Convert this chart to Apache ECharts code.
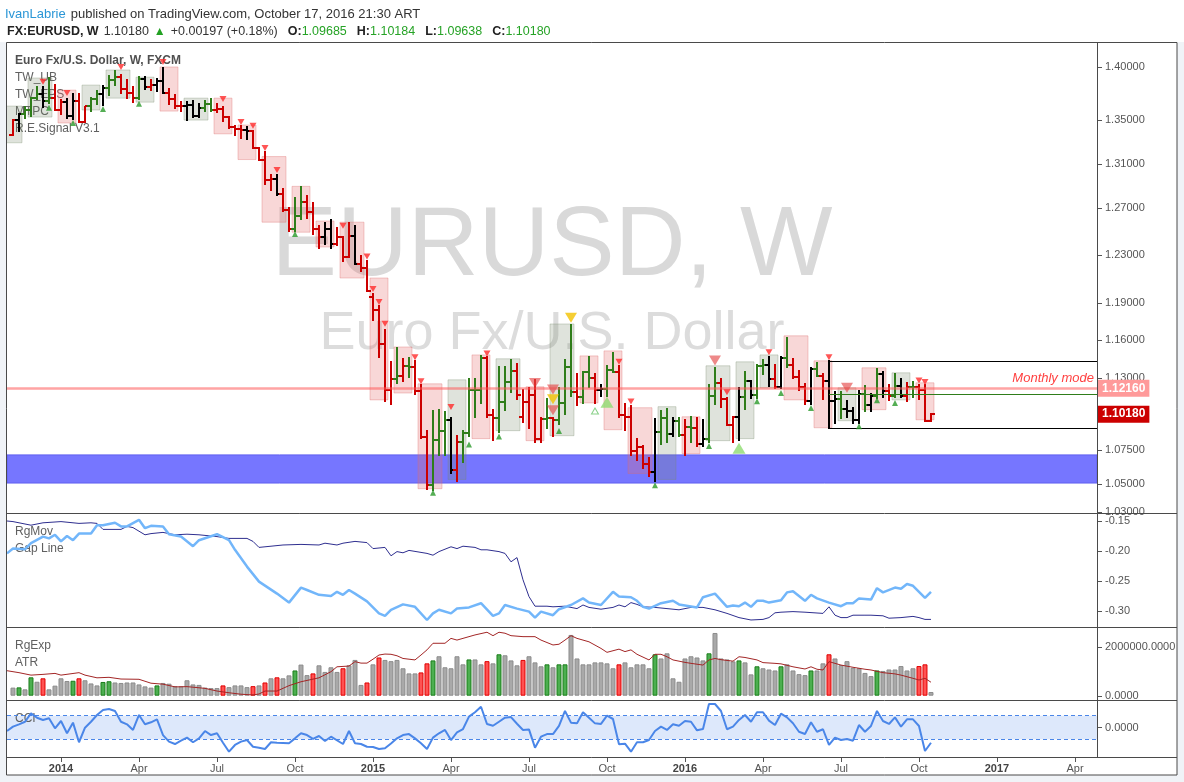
<!DOCTYPE html>
<html>
<head>
<meta charset="utf-8">
<title>FX:EURUSD, W</title>
<script src="https://cdn.jsdelivr.net/npm/echarts@6.0.0/dist/echarts.min.js"></script>
<style>
  html, body { margin: 0; padding: 0; background: #f0f3f7; }
  #chart { width: 1184px; height: 782px; }
</style>
</head>
<body>
<div id="chart"></div>
<script>
// weekly bars: week 1 = week of 10 Nov 2013 ... week 154 = week of 16 Oct 2016
const opens = [
  1.3365,1.3497,1.3555,1.3590,1.3705,1.3740,1.3675,1.3710,1.3590,1.3665,
  1.3540,1.3680,1.3485,1.3635,1.3695,1.3740,1.3805,1.3875,1.3910,1.3790,
  1.3750,1.3705,1.3885,1.3810,1.3830,1.3870,1.3755,1.3695,1.3630,1.3635,
  1.3640,1.3540,1.3610,1.3645,1.3595,1.3605,1.3525,1.3430,1.3415,1.3410,
  1.3400,1.3240,1.3132,1.2950,1.2965,1.2830,1.2685,1.2520,1.2630,1.2760,
  1.2670,1.2525,1.2455,1.2525,1.2390,1.2450,1.2285,1.2460,1.2225,1.2190,
  1.1950,1.1840,1.1565,1.1205,1.1290,1.1315,1.1390,1.1380,1.1195,1.0845,
  1.0495,1.0820,1.0890,1.0970,1.0600,1.0805,1.0875,1.1200,1.1200,1.1450,
  1.1015,1.0985,1.1110,1.1265,1.1350,1.1000,1.1110,1.1165,1.0830,1.0980,
  1.0985,1.0970,1.1105,1.1385,1.1185,1.1150,1.1340,1.1295,1.1200,1.1210,
  1.1360,1.1345,1.1015,1.1000,1.0740,1.0770,1.0645,1.0590,1.0880,1.0990,
  1.0870,1.0965,1.0860,1.0920,1.0915,1.0795,1.0830,1.1155,1.1255,1.1130,
  1.0935,1.0995,1.1150,1.1270,1.1165,1.1390,1.1395,1.1285,1.1225,1.1455,
  1.1400,1.1305,1.1225,1.1115,1.1365,1.1315,1.1275,1.1115,1.1135,1.1055,
  1.1040,1.0975,1.1175,1.1085,1.1160,1.1325,1.1195,1.1155,1.1235,1.1155,
  1.1225,1.1225,1.1200,1.09685
];
const highs = [
  1.3500,1.3560,1.3620,1.3710,1.3810,1.3811,1.3893,1.3830,1.3687,1.3700,
  1.3740,1.3740,1.3620,1.3705,1.3773,1.3825,1.3915,1.3967,1.3930,1.3875,
  1.3810,1.3905,1.3905,1.3875,1.3890,1.3993,1.3790,1.3735,1.3670,1.3670,
  1.3675,1.3645,1.3675,1.3700,1.3650,1.3620,1.3530,1.3445,1.3445,1.3435,
  1.3400,1.3245,1.3200,1.2995,1.3000,1.2870,1.2705,1.2790,1.2885,1.2810,
  1.2750,1.2550,1.2577,1.2600,1.2530,1.2455,1.2570,1.2550,1.2290,1.2250,
  1.1970,1.1870,1.1680,1.1425,1.1535,1.1445,1.1450,1.1430,1.1245,1.0890,
  1.1045,1.1050,1.1035,1.0985,1.0850,1.0890,1.1290,1.1290,1.1467,1.1460,
  1.1050,1.1380,1.1385,1.1435,1.1410,1.1205,1.1215,1.1280,1.0985,1.1130,
  1.0990,1.1215,1.1440,1.1715,1.1330,1.1345,1.1460,1.1330,1.1245,1.1390,
  1.1495,1.1390,1.1095,1.1080,1.0830,1.0780,1.0690,1.0980,1.1045,1.1060,
  1.0990,1.0990,1.0970,1.0995,1.0990,1.0975,1.1245,1.1375,1.1290,1.1145,
  1.1000,1.1218,1.1340,1.1275,1.1400,1.1440,1.1465,1.1400,1.1460,1.1615,
  1.1445,1.1348,1.1250,1.1375,1.1415,1.1325,1.1428,1.1185,1.1185,1.1120,
  1.1065,1.1195,1.1235,1.1175,1.1365,1.1340,1.1240,1.1330,1.1285,1.1255,
  1.1265,1.1240,1.1240,1.10184
];
const lows = [
  1.3360,1.3400,1.3520,1.3540,1.3700,1.3625,1.3655,1.3590,1.3560,1.3520,
  1.3510,1.3480,1.3477,1.3585,1.3645,1.3640,1.3730,1.3830,1.3750,1.3705,
  1.3672,1.3700,1.3790,1.3780,1.3775,1.3755,1.3650,1.3615,1.3585,1.3503,
  1.3525,1.3525,1.3580,1.3580,1.3570,1.3490,1.3425,1.3365,1.3333,1.3325,
  1.3240,1.3130,1.2920,1.2860,1.2815,1.2680,1.2500,1.2500,1.2610,1.2615,
  1.2480,1.2357,1.2395,1.2360,1.2380,1.2245,1.2280,1.2225,1.2160,1.2000,
  1.1755,1.1460,1.1115,1.1095,1.1260,1.1270,1.1305,1.1175,1.0840,1.0462,
  1.0455,1.0710,1.0710,1.0580,1.0520,1.0660,1.0850,1.1000,1.1100,1.1000,
  1.0820,1.0885,1.1050,1.1190,1.1135,1.0955,1.0915,1.0810,1.0810,1.0915,
  1.0850,1.0940,1.1020,1.1160,1.1085,1.1100,1.1230,1.1105,1.1155,1.1160,
  1.1340,1.0995,1.0895,1.0710,1.0675,1.0615,1.0560,1.0524,1.0795,1.0805,
  1.0850,1.0850,1.0710,1.0805,1.0780,1.0780,1.0810,1.1095,1.1070,1.0935,
  1.0810,1.0820,1.1055,1.1145,1.1145,1.1325,1.1235,1.1215,1.1215,1.1385,
  1.1300,1.1200,1.1095,1.1098,1.1315,1.1130,1.0912,1.0950,1.0990,1.1000,
  1.0950,1.0950,1.1045,1.1045,1.1145,1.1150,1.1125,1.1150,1.1150,1.1120,
  1.1150,1.1130,1.0965,1.09638
];
const closes = [
  1.3497,1.3555,1.3590,1.3705,1.3740,1.3675,1.3710,1.3590,1.3665,1.3540,
  1.3680,1.3485,1.3635,1.3695,1.3740,1.3805,1.3875,1.3910,1.3790,1.3750,
  1.3705,1.3885,1.3810,1.3830,1.3870,1.3755,1.3695,1.3630,1.3635,1.3640,
  1.3540,1.3610,1.3645,1.3595,1.3605,1.3525,1.3430,1.3415,1.3410,1.3400,
  1.3240,1.3132,1.2950,1.2965,1.2830,1.2685,1.2520,1.2630,1.2760,1.2670,
  1.2525,1.2455,1.2525,1.2390,1.2450,1.2285,1.2460,1.2225,1.2190,1.2000,
  1.1840,1.1565,1.1205,1.1290,1.1315,1.1390,1.1380,1.1195,1.0845,1.0495,
  1.0820,1.0890,1.0970,1.0600,1.0805,1.0875,1.1200,1.1200,1.1450,1.1015,
  1.0985,1.1110,1.1265,1.1350,1.1165,1.1110,1.1165,1.0830,1.0980,1.0985,
  1.0970,1.1105,1.1385,1.1185,1.1150,1.1340,1.1295,1.1200,1.1210,1.1360,
  1.1345,1.1015,1.1000,1.0740,1.0770,1.0645,1.0590,1.0880,1.0990,1.0870,
  1.0965,1.0860,1.0920,1.0915,1.0795,1.0830,1.1155,1.1255,1.1130,1.0935,
  1.0995,1.1150,1.1270,1.1165,1.1390,1.1395,1.1285,1.1225,1.1455,1.1400,
  1.1305,1.1225,1.1115,1.1365,1.1315,1.1275,1.1115,1.1135,1.1055,1.1040,
  1.0975,1.1175,1.1085,1.1160,1.1325,1.1195,1.1155,1.1235,1.1155,1.1225,
  1.1225,1.1200,1.0969,1.10180
];
// bar colour from the signal: r = red, g = green, k = black
const barColors = ('rkgggkgrrk' + 'krrggkggrr' + 'rgkrkkrrrk' + 'kkggrrrrrk' + 'rrrrkrrggr' +
  'rrkkrrrkrr' + 'rrrrgrgrrr' + 'gggkrggggr' + 'rgggrrrrrg' + 'rgggrggrkg' +
  'grrrrrrkgg' + 'kgrgrkggrr' + 'rkgkggkrkg' + 'rrrkgrkkgk' + 'kkgkgkrgkr' + 'grrr').split('');

// shaded boxes: [first week, last week, low, high, kind]
const boxes = [
  [0, 2, 1.3289, 1.3630, 'g'], [4, 7, 1.3527, 1.3897, 'g'], [9, 11, 1.3472, 1.3781, 'r'],
  [13, 15, 1.3593, 1.3829, 'g'], [17, 20, 1.3705, 1.3974, 'g'], [22, 24, 1.3667, 1.3905, 'g'],
  [26, 28, 1.3583, 1.4003, 'r'], [30, 33, 1.3499, 1.3705, 'g'], [35, 37, 1.3371, 1.3705, 'r'],
  [39, 41, 1.3136, 1.3453, 'r'], [43, 46, 1.2580, 1.3163, 'r'], [48, 50, 1.2493, 1.2895, 'r'],
  [52, 54, 1.2366, 1.2590, 'r'], [56, 59, 1.2104, 1.2580, 'r'], [61, 63, 1.1127, 1.2104, 'r'],
  [65, 67, 1.1180, 1.1541, 'r'], [69, 72, 1.0465, 1.1251, 'r'], [74, 76, 1.0532, 1.1282, 'g'],
  [78, 80, 1.0833, 1.1478, 'r'], [82, 85, 1.0893, 1.1447, 'g'], [87, 89, 1.0818, 1.1228, 'r'],
  [91, 94, 1.0855, 1.1726, 'g'], [96, 98, 1.1104, 1.1470, 'r'], [100, 102, 1.0900, 1.1510, 'r'],
  [104, 107, 1.0576, 1.1067, 'r'], [109, 111, 1.0532, 1.1075, 'g'], [113, 115, 1.0722, 1.0998, 'r'],
  [117, 120, 1.0818, 1.1392, 'g'], [122, 124, 1.0833, 1.1423, 'g'], [126, 128, 1.1220, 1.1478, 'g'],
  [130, 133, 1.1127, 1.1630, 'r'], [135, 137, 1.0915, 1.1431, 'r'], [139, 141, 1.0968, 1.1220, 'g'],
  [143, 146, 1.1052, 1.1376, 'r'], [148, 150, 1.1127, 1.1337, 'g'], [152, 154, 1.0975, 1.1259, 'r']
];

// signal triangles: [week, price]
const sellSmall = [[6,1.3861],[10,1.3754],[19,1.4003],[26,1.4051],[36,1.3697],[39,1.3481],[41,1.3446],
  [43,1.3240],[45,1.3042],[56,1.2549],[60,1.2285],[61,1.2012],[62,1.1906],[63,1.1727],[68,1.1460],
  [69,1.1272],[74,1.1072],[80,1.1490],[102,1.1423],[104,1.1115],[120,1.1185],[127,1.1500],
  [137,1.1460],[152,1.1277],[153,1.1265]];
const buySmall = [[7,1.3615],[11,1.3472],[16,1.3603],[22,1.3652],[48,1.2477],[71,1.0436],[77,1.0789],
  [82,1.0850],[92,1.0890],[108,1.0490],[117,1.0778],[125,1.1116],[129,1.1180],[134,1.1065],
  [142,1.0926],[145,1.1124],[148,1.1103]];
const sellBig = [[88,1.1257],[91,1.1208],[91,1.1048],[118,1.1434],[140,1.1221]];
const warnBig = [[91,1.1132],[94,1.1776]];
const buyBig = [[100,1.1108],[122,1.0761]];
const buyHollow = [[98,1.1042]];

const supportZone = [1.0506, 1.0712];
const monthlyMode = 1.1216;
const lastPrice = 1.1018;
const brexitWeek = 137;
const brexitHigh = 1.1428, brexitLow = 1.0912, brexitMid = 1.1172;

// RgMov panel: [week, value]
const gapLine = [[0,-0.204],[1,-0.196],[3,-0.197],[4,-0.187],[6,-0.176],[7,-0.179],[8,-0.173],[9,-0.184],
  [10,-0.175],[11,-0.182],[12,-0.171],[14,-0.171],[15,-0.157],[16,-0.157],[18,-0.153],[19,-0.159],
  [20,-0.159],[22,-0.148],[23,-0.162],[24,-0.158],[26,-0.159],[27,-0.172],[29,-0.176],[31,-0.192],
  [32,-0.182],[35,-0.172],[37,-0.182],[38,-0.198],[40,-0.226],[42,-0.251],[45,-0.271],[47,-0.286],
  [49,-0.261],[50,-0.265],[52,-0.273],[54,-0.275],[55,-0.268],[56,-0.273],[57,-0.265],[58,-0.271],
  [60,-0.284],[62,-0.304],[63,-0.308],[64,-0.298],[66,-0.289],[68,-0.293],[70,-0.315],[71,-0.304],
  [72,-0.298],[74,-0.304],[75,-0.296],[77,-0.294],[79,-0.287],[81,-0.308],[82,-0.304],[83,-0.290],
  [85,-0.296],[87,-0.301],[88,-0.311],[89,-0.301],[91,-0.307],[92,-0.297],[94,-0.290],[96,-0.279],
  [97,-0.286],[99,-0.290],[101,-0.268],[102,-0.276],[104,-0.277],[105,-0.283],[106,-0.293],[107,-0.296],
  [109,-0.287],[111,-0.283],[112,-0.289],[115,-0.294],[116,-0.277],[118,-0.271],[120,-0.293],[121,-0.291],
  [122,-0.292],[123,-0.286],[124,-0.293],[125,-0.283],[126,-0.283],[127,-0.286],[129,-0.282],[130,-0.269],
  [131,-0.267],[133,-0.283],[134,-0.273],[135,-0.279],[137,-0.286],[139,-0.292],[140,-0.287],[141,-0.287],
  [142,-0.279],[144,-0.281],[145,-0.262],[146,-0.269],[148,-0.261],[149,-0.263],[150,-0.255],[151,-0.258],
  [153,-0.278],[154,-0.268]];
const rgMov = [[0,-0.150],[1,-0.151],[4,-0.157],[6,-0.153],[9,-0.151],[12,-0.154],[14,-0.153],[15,-0.154],
  [16,-0.164],[19,-0.164],[20,-0.159],[21,-0.161],[23,-0.173],[24,-0.171],[26,-0.169],[28,-0.173],
  [30,-0.172],[32,-0.173],[35,-0.176],[37,-0.179],[40,-0.179],[41,-0.184],[42,-0.194],[43,-0.193],
  [46,-0.190],[49,-0.189],[52,-0.190],[53,-0.187],[55,-0.190],[56,-0.187],[58,-0.184],[60,-0.186],
  [61,-0.196],[63,-0.194],[64,-0.208],[65,-0.201],[66,-0.203],[67,-0.199],[70,-0.204],[71,-0.207],
  [72,-0.201],[74,-0.193],[75,-0.196],[76,-0.192],[78,-0.194],[79,-0.198],[80,-0.198],[82,-0.201],
  [83,-0.204],[84,-0.218],[85,-0.211],[86,-0.248],[87,-0.276],[88,-0.292],[90,-0.292],[91,-0.293],
  [93,-0.292],[94,-0.294],[95,-0.296],[96,-0.290],[97,-0.294],[99,-0.297],[101,-0.294],[102,-0.290],
  [103,-0.293],[104,-0.286],[105,-0.289],[106,-0.293],[108,-0.294],[110,-0.296],[112,-0.298],[114,-0.294],
  [116,-0.294],[118,-0.298],[120,-0.304],[122,-0.311],[124,-0.315],[126,-0.314],[127,-0.311],[128,-0.303],
  [129,-0.302],[131,-0.301],[133,-0.302],[136,-0.304],[137,-0.293],[138,-0.307],[139,-0.311],[140,-0.311],
  [141,-0.307],[143,-0.307],[144,-0.307],[146,-0.308],[147,-0.312],[149,-0.311],[151,-0.309],[152,-0.311],
  [153,-0.314],[154,-0.314]];

// RgExp panel, in millions
const atrBars = [
  0.33,0.34,0.26,0.75,0.57,0.71,0.26,0.41,0.71,0.60, 0.61,0.71,0.63,0.50,0.42,0.56,0.59,0.54,0.52,0.54,
  0.54,0.46,0.38,0.33,0.42,0.52,0.49,0.39,0.38,0.63, 0.46,0.44,0.33,0.31,0.31,0.42,0.35,0.42,0.42,0.35,
  0.39,0.42,0.54,0.71,0.75,0.71,0.83,1.03,1.27,0.84, 0.91,1.24,0.97,1.16,0.97,1.12,1.24,1.46,0.44,0.54,
  1.28,1.56,1.46,1.41,1.46,1.12,0.91,0.91,0.95,1.32, 1.44,1.61,1.16,1.12,1.61,1.28,1.48,1.48,1.28,1.41,
  1.32,1.69,1.65,1.44,1.24,1.46,1.61,1.36,1.20,1.28, 1.16,1.28,1.28,2.48,1.52,1.28,1.28,1.36,1.36,1.32,
  1.12,1.28,1.36,1.16,1.28,1.28,1.12,1.69,1.52,1.73, 0.71,0.57,1.52,1.61,1.56,1.44,1.73,2.56,1.52,1.48,
  1.40,1.44,1.36,0.87,1.20,1.12,1.07,1.03,1.20,1.28, 1.03,0.88,0.84,1.03,1.03,1.32,1.69,1.52,1.25,1.41,
  1.14,1.12,0.93,0.80,1.03,1.01,1.07,1.07,1.21,1.03, 1.12,1.21,1.28,0.15
];
const atrColors = ('xgxgxrxxxx' + 'grxxxggxxx' + 'xxxxgxxxxx' + 'xxxxxrxxxx' + 'rxrxrxxgxx' +
  'rxxxxrxxxr' + 'xrxxxxxxrr' + 'gxxxxxgxxr' + 'xgxxxrxxxg' + 'xggxxxxxxx' +
  'xrxxxxxgxx' + 'xxxxxxgxxx' + 'xgxxgxxxgx' + 'xxxgxxrxxx' + 'xxxxgxxxxx' + 'xrrx').split('');
const atrLine = [[0,1.02],[2,0.94],[4,0.84],[6,0.87],[8,0.91],[9,0.84],[12,0.94],[13,0.84],[15,0.73],
  [17,0.75],[19,0.68],[22,0.67],[24,0.51],[26,0.47],[28,0.36],[30,0.37],[33,0.30],[35,0.19],[37,0.12],
  [39,0.06],[41,0.03],[42,0.07],[43,0.19],[45,0.19],[47,0.41],[49,0.57],[52,0.73],[54,0.98],[55,1.18],
  [57,1.21],[58,1.39],[59,1.33],[60,1.33],[61,1.49],[62,1.66],[63,1.70],[64,1.69],[65,1.63],[66,1.52],
  [68,1.46],[69,1.66],[70,1.87],[71,2.14],[73,2.14],[74,2.34],[75,2.27],[77,2.41],[78,2.48],[80,2.59],
  [81,2.45],[82,2.59],[83,2.55],[84,2.45],[86,2.41],[88,2.41],[89,2.27],[91,2.07],[92,2.10],[93,2.27],
  [94,2.45],[95,2.34],[97,2.20],[99,1.93],[100,1.77],[102,1.90],[103,1.80],[104,1.87],[105,1.69],
  [107,1.46],[108,1.69],[109,1.69],[110,1.59],[111,1.46],[113,1.36],[114,1.32],[116,1.25],[117,1.46],
  [118,1.52],[119,1.47],[121,1.41],[122,1.59],[123,1.56],[125,1.46],[126,1.35],[128,1.32],[129,1.30],
  [131,1.18],[133,1.09],[134,1.18],[135,1.08],[136,1.05],[137,1.39],[138,1.32],[139,1.25],[141,1.16],
  [143,1.08],[144,1.05],[146,0.94],[148,0.89],[149,0.84],[151,0.71],[152,0.64],[153,0.71],[154,0.55]];

// CCI panel
const cci = [[0,-30],[1,7],[2,27],[3,49],[4,120],[5,83],[6,64],[7,78],[8,-7],[9,55],[10,-49],[11,41],
  [12,-125],[13,-2],[14,49],[15,106],[16,148],[17,157],[18,140],[19,49],[20,27],[21,-21],[22,106],
  [23,27],[24,44],[25,69],[26,-64],[27,-120],[28,-140],[29,-112],[30,-86],[31,-125],[32,-92],[33,-30],
  [34,-64],[35,-49],[36,-129],[37,-205],[38,-148],[39,-120],[40,-106],[41,-163],[42,-171],[43,-182],
  [44,-125],[45,-129],[47,-134],[48,-92],[49,-49],[50,-64],[51,-97],[52,-72],[53,-114],[54,-78],
  [56,-140],[57,-30],[58,-134],[59,-140],[60,-163],[61,-165],[62,-182],[63,-176],[64,-135],[65,-92],
  [66,-64],[67,-56],[68,-92],[69,-134],[70,-182],[71,-86],[72,-49],[73,-21],[74,-106],[75,-42],[76,-13],
  [77,92],[78,129],[79,176],[80,30],[81,15],[82,49],[83,83],[84,88],[85,32],[86,-21],[87,-16],[88,-171],
  [89,-78],[90,-56],[91,-56],[92,13],[93,140],[94,41],[95,35],[96,129],[97,83],[98,35],[99,30],[100,100],
  [101,72],[102,-142],[103,-137],[104,-205],[105,-125],[106,-125],[107,-106],[108,-30],[109,7],[110,-21],
  [111,27],[112,15],[113,55],[114,49],[115,-24],[116,-13],[117,199],[118,199],[119,140],[120,-15],[121,7],
  [122,64],[123,106],[124,49],[125,129],[126,129],[127,58],[128,21],[129,117],[130,86],[131,36],[132,-36],
  [133,-55],[134,44],[135,-36],[136,-15],[137,-148],[138,-86],[139,-106],[140,-98],[141,-112],[142,21],
  [143,-36],[144,13],[145,140],[146,55],[147,30],[148,86],[149,7],[150,69],[151,69],[152,13],[153,-199],
  [154,-129]];

const priceTicks = [1.40, 1.35, 1.31, 1.27, 1.23, 1.19, 1.16, 1.13, 1.075, 1.05, 1.03];
const rgMovTicks = [-0.15, -0.20, -0.25, -0.30];
const atrTicks = [0, 2];
const cciTicks = [0];
const timeTicks = [9, 22, 35, 48, 61, 74, 87, 100, 113, 126, 139, 152, 165, 178];
const timeLabels = ['2014', 'Apr', 'Jul', 'Oct', '2015', 'Apr', 'Jul', 'Oct', '2016', 'Apr', 'Jul', 'Oct', '2017', 'Apr'];

const L = Math.log;
const xMax = 181.67;
const FONT = '"Liberation Sans", Arial, sans-serif';
const colorMap = { r: '#cc0000', g: '#2f7d1a', k: '#000000' };
const atrStyle = {
  x: { color: '#a9a9a9', borderColor: '#8c8c8c', borderWidth: 1 },
  g: { color: '#4caf50', borderColor: '#1b7d1b', borderWidth: 1 },
  r: { color: '#ff5252', borderColor: '#e00000', borderWidth: 1 }
};

const ohlc = opens.map((o, i) => [i + 1, L(o), L(highs[i]), L(lows[i]), L(closes[i])]);
const boxData = boxes.map(b => [b[0], b[1], L(b[2]), L(b[3])]);
const toLog = arr => arr.map(p => [p[0], L(p[1])]);

function renderBar(params, api) {
  const n = api.value(0);
  const op = api.coord([n, api.value(1)]);
  const hi = api.coord([n, api.value(2)]);
  const lo = api.coord([n, api.value(3)]);
  const cl = api.coord([n, api.value(4)]);
  const x = Math.round(hi[0]);
  const st = { stroke: colorMap[barColors[params.dataIndex]], lineWidth: 2 };
  const yo = Math.round(op[1]), yc = Math.round(cl[1]);
  return {
    type: 'group',
    children: [
      { type: 'line', shape: { x1: x, y1: Math.round(hi[1]) - 1, x2: x, y2: Math.round(lo[1]) + 1 }, style: st },
      { type: 'line', shape: { x1: x - 4, y1: yo, x2: x, y2: yo }, style: st },
      { type: 'line', shape: { x1: x, y1: yc, x2: x + 4, y2: yc }, style: st }
    ]
  };
}

function renderBox(params, api) {
  const a = api.coord([api.value(0) - 0.5, api.value(3)]);
  const b = api.coord([api.value(1) + 0.5, api.value(2)]);
  const pink = boxes[params.dataIndex][4] === 'r';
  return {
    type: 'rect',
    shape: { x: a[0], y: a[1], width: b[0] - a[0], height: b[1] - a[1] },
    style: pink
      ? { fill: 'rgba(230,110,110,0.28)', stroke: 'rgba(220,110,110,0.35)', lineWidth: 1 }
      : { fill: 'rgba(120,140,110,0.24)', stroke: 'rgba(120,140,110,0.32)', lineWidth: 1 }
  };
}

// small tick marks right of the price axis line and under the time axis
function yTicks(axisIndex, values) {
  return {
    type: 'custom', xAxisIndex: axisIndex, yAxisIndex: axisIndex, silent: true, clip: false, z: 20,
    data: values.map(v => [xMax, v]),
    renderItem: (params, api) => {
      const c = api.coord([api.value(0), api.value(1)]);
      const y = Math.round(c[1]) + 0.5;
      return { type: 'line', shape: { x1: c[0] + 1, y1: y, x2: c[0] + 5, y2: y }, style: { stroke: '#555', lineWidth: 1 } };
    }
  };
}
function xTicks(values) {
  return {
    type: 'custom', xAxisIndex: 3, yAxisIndex: 3, silent: true, clip: false, z: 20,
    data: values.map(v => [v, -250]),
    renderItem: (params, api) => {
      const c = api.coord([api.value(0), api.value(1)]);
      const x = Math.round(c[0]) + 0.5;
      return { type: 'line', shape: { x1: x, y1: c[1] + 1, x2: x, y2: c[1] + 5 }, style: { stroke: '#555', lineWidth: 1 } };
    }
  };
}

const grids = [
  { left: 7, right: 87, top: 42, height: 471 },
  { left: 7, right: 87, top: 513, height: 114 },
  { left: 7, right: 87, top: 627, height: 73 },
  { left: 7, right: 87, top: 700, height: 57 }
];

const axisLabelBase = { color: '#555', fontSize: 11, fontFamily: FONT, margin: 8 };

function yAxisFor(gridIndex, min, max, ticks, fmt) {
  return {
    type: 'value', gridIndex, position: 'right', min, max,
    axisLine: { show: false }, splitLine: { show: false }, axisTick: { show: false },
    axisLabel: Object.assign({ customValues: ticks, formatter: fmt }, axisLabelBase)
  };
}

const xAxes = grids.map((g, i) => ({
  type: 'value', gridIndex: i, min: 0, max: xMax, show: i === 3,
  axisLine: { show: false }, splitLine: { show: false }, axisTick: { show: false },
  axisLabel: {
    customValues: timeTicks, margin: 6, fontFamily: FONT, fontSize: 11,
    formatter: v => {
      const t = timeLabels[timeTicks.indexOf(Math.round(v))] || '';
      return /^\d{4}$/.test(t) ? '{yr|' + t + '}' : '{mo|' + t + '}';
    },
    rich: {
      yr: { color: '#444', fontWeight: 'bold', fontSize: 11, fontFamily: FONT },
      mo: { color: '#555', fontSize: 11, fontFamily: FONT }
    }
  }
}));

const yAxes = [
  yAxisFor(0, 0.02867, 0.35394, priceTicks.map(p => L(p)), v => Math.exp(v).toFixed(5)),
  yAxisFor(1, -0.32667, -0.13667, rgMovTicks, v => v.toFixed(2)),
  yAxisFor(2, -0.1755, 2.804, atrTicks, v => (v * 1e6).toFixed(4)),
  yAxisFor(3, -250, 233, cciTicks, v => v.toFixed(4))
];

function tri(data, rotate, size, color, z) {
  return {
    type: 'scatter', xAxisIndex: 0, yAxisIndex: 0, data: toLog(data), silent: true,
    symbol: 'triangle', symbolRotate: rotate, symbolSize: size, itemStyle: color, z
  };
}

function legendText(x, y, text, bold) {
  return {
    type: 'text', x, y, z: 1.5,
    style: {
      text, fill: bold ? '#505050' : '#606060',
      font: (bold ? 'bold ' : '') + '12px ' + FONT,
      textVerticalAlign: 'middle', verticalAlign: 'middle'
    }
  };
}

function priceTag(value, bg) {
  return {
    yAxis: L(value), lineStyle: { color: 'rgba(0,0,0,0)', width: 0 },
    label: { show: true, position: 'end', formatter: value.toFixed(5), distance: 0,
      backgroundColor: bg, color: '#fff', fontWeight: 'bold', fontSize: 12,
      fontFamily: FONT, padding: [3, 4, 2, 5] }
  };
}

const option = {
  backgroundColor: '#f0f3f7',
  animation: false,
  textStyle: { fontFamily: FONT },
  title: [
    {
      left: 5, top: 5, padding: 0,
      text: '{u|IvanLabrie} {p|published on TradingView.com, October 17, 2016 21:30 ART}',
      textStyle: { fontWeight: 'normal', rich: {
        u: { color: '#2a96d6', fontSize: 13, fontWeight: 'normal', fontFamily: FONT },
        p: { color: '#333', fontSize: 13, fontWeight: 'normal', fontFamily: FONT }
      } }
    },
    {
      left: 7, top: 23, padding: 0,
      text: '{b|FX:EURUSD, W} {n|1.10180} {up|▲} {n|+0.00197 (+0.18%)}  {b|O:}{v|1.09685}  {b|H:}{v|1.10184}  {b|L:}{v|1.09638}  {b|C:}{v|1.10180}',
      textStyle: { fontWeight: 'normal', rich: {
        b: { color: '#222', fontWeight: 'bold', fontSize: 12.5, fontFamily: FONT },
        n: { color: '#333', fontWeight: 'normal', fontSize: 12.5, fontFamily: FONT },
        up: { color: '#23a123', fontWeight: 'normal', fontSize: 12, fontFamily: FONT },
        v: { color: '#26a326', fontWeight: 'normal', fontSize: 12.5, fontFamily: FONT }
      } }
    }
  ],
  grid: grids,
  xAxis: xAxes,
  yAxis: yAxes,
  graphic: [
    { type: 'rect', z: -30, shape: { x: 0, y: 0, width: 1184, height: 42 }, style: { fill: '#ffffff' } },
    { type: 'rect', z: -30, shape: { x: 6.5, y: 42.5, width: 1170.5, height: 732.5 }, style: { fill: '#ffffff' } },
    {
      type: 'text', x: 552, y: 248, z: -5,
      style: { text: 'EURUSD, W', fill: '#d9d9d9', font: '98px ' + FONT,
        textAlign: 'center', align: 'center', textVerticalAlign: 'middle', verticalAlign: 'middle' }
    },
    {
      type: 'text', x: 552, y: 334, z: -5,
      style: { text: 'Euro Fx/U.S. Dollar', fill: '#dcdcdc', font: '54px ' + FONT,
        textAlign: 'center', align: 'center', textVerticalAlign: 'middle', verticalAlign: 'middle' }
    },
    legendText(15, 61, 'Euro Fx/U.S. Dollar, W, FXCM', true),
    legendText(15, 78, 'TW_UB'),
    legendText(15, 95, 'TW_EPS'),
    legendText(15, 112, 'MTPC'),
    legendText(15, 129, 'R.E.Signal V3.1'),
    legendText(15, 532, 'RgMov'),
    legendText(15, 549, 'Gap Line'),
    legendText(15, 646, 'RgExp'),
    legendText(15, 663, 'ATR'),
    legendText(15, 719, 'CCI'),
    { type: 'rect', z: 50, shape: { x: 6.5, y: 42.5, width: 1170.5, height: 732.5 },
      style: { fill: 'none', stroke: '#4a4a4a', lineWidth: 1 } },
    { type: 'line', z: 50, shape: { x1: 6.5, y1: 513.5, x2: 1177, y2: 513.5 }, style: { stroke: '#4a4a4a', lineWidth: 1 } },
    { type: 'line', z: 50, shape: { x1: 6.5, y1: 627.5, x2: 1177, y2: 627.5 }, style: { stroke: '#4a4a4a', lineWidth: 1 } },
    { type: 'line', z: 50, shape: { x1: 6.5, y1: 700.5, x2: 1177, y2: 700.5 }, style: { stroke: '#4a4a4a', lineWidth: 1 } },
    { type: 'line', z: 50, shape: { x1: 6.5, y1: 757.5, x2: 1177, y2: 757.5 }, style: { stroke: '#4a4a4a', lineWidth: 1 } },
    { type: 'line', z: 50, shape: { x1: 1097.5, y1: 42.5, x2: 1097.5, y2: 757.5 }, style: { stroke: '#4a4a4a', lineWidth: 1 } }
  ],
  series: [
    // support zone
    {
      type: 'line', xAxisIndex: 0, yAxisIndex: 0, data: [], z: 1, silent: true,
      markArea: {
        silent: true,
        itemStyle: { color: '#7676ff', borderColor: '#5e5ef0', borderWidth: 1 },
        data: [[{ coord: [0, L(supportZone[1])] }, { coord: [xMax, L(supportZone[0])] }]]
      }
    },
    {
      type: 'custom', xAxisIndex: 0, yAxisIndex: 0, data: boxData, renderItem: renderBox,
      clip: true, silent: true, z: 2, encode: { x: [0, 1], y: [2, 3] }
    },
    // reference lines
    {
      type: 'line', xAxisIndex: 0, yAxisIndex: 0, data: [], z: 3, silent: true,
      markLine: {
        silent: true, symbol: ['none', 'none'], animation: false, precision: 10,
        data: [
          { yAxis: L(monthlyMode), lineStyle: { color: 'rgba(255,90,90,0.55)', width: 2.5, type: 'solid' },
            label: { show: true, position: 'insideEndTop', formatter: 'Monthly mode', color: '#ff4040',
              fontStyle: 'italic', fontSize: 13, fontFamily: FONT, distance: 3 } },
          [{ coord: [brexitWeek, L(brexitHigh)], lineStyle: { color: '#000', width: 1, type: 'solid' }, label: { show: false } },
           { coord: [xMax, L(brexitHigh)] }],
          [{ coord: [brexitWeek, L(brexitLow)], lineStyle: { color: '#000', width: 1, type: 'solid' }, label: { show: false } },
           { coord: [xMax, L(brexitLow)] }],
          [{ coord: [brexitWeek, L(brexitMid)], lineStyle: { color: '#2f7d1a', width: 1, type: 'solid' }, label: { show: false } },
           { coord: [xMax, L(brexitMid)] }]
        ]
      }
    },
    // price tags on the axis
    {
      type: 'line', xAxisIndex: 0, yAxisIndex: 0, data: [], z: 30, silent: true,
      markLine: {
        silent: true, symbol: ['none', 'none'], animation: false, precision: 10,
        data: [priceTag(monthlyMode, '#ff9a9a'), priceTag(lastPrice, '#cc0000')]
      }
    },
    {
      type: 'custom', xAxisIndex: 0, yAxisIndex: 0, data: ohlc, renderItem: renderBar,
      clip: true, silent: true, z: 4, encode: { x: 0, y: [1, 2, 3, 4] }
    },
    tri(sellSmall, 180, [7, 6], { color: '#ff2a2a' }, 5),
    tri(buySmall, 0, [6, 6], { color: '#2a9a2a' }, 5),
    tri(sellBig, 180, [12, 10], { color: 'rgba(228,70,70,0.8)' }, 6),
    tri(warnBig, 180, [12, 10], { color: '#f2c200' }, 6),
    tri(buyBig, 0, [13, 11], { color: '#8fdc70' }, 6),
    tri(buyHollow, 0, [7, 6], { color: 'rgba(255,255,255,0)', borderColor: '#6cc46c', borderWidth: 1 }, 6),

    // RgMov
    {
      type: 'line', xAxisIndex: 1, yAxisIndex: 1, data: rgMov, showSymbol: false, silent: true,
      lineStyle: { color: '#2e2e8f', width: 1 }, z: 3
    },
    {
      type: 'line', xAxisIndex: 1, yAxisIndex: 1, data: gapLine, showSymbol: false, silent: true,
      lineStyle: { color: '#72b6fa', width: 2.5 }, z: 4
    },

    // RgExp / ATR
    {
      type: 'bar', xAxisIndex: 2, yAxisIndex: 2, barWidth: 5, silent: true, z: 2,
      data: atrBars.map((v, i) => ({ value: [i + 1, v], itemStyle: atrStyle[atrColors[i]] }))
    },
    {
      type: 'line', xAxisIndex: 2, yAxisIndex: 2, data: atrLine, showSymbol: false, silent: true,
      lineStyle: { color: '#a32626', width: 1 }, z: 3
    },

    // CCI
    {
      type: 'line', xAxisIndex: 3, yAxisIndex: 3, data: [], z: 1, silent: true,
      markArea: { silent: true, itemStyle: { color: '#dde8fb' }, data: [[{ coord: [0, 100] }, { coord: [xMax, -100] }]] },
      markLine: {
        silent: true, symbol: ['none', 'none'], label: { show: false }, precision: 10,
        lineStyle: { color: '#4a86e8', type: [4, 3], width: 1 },
        data: [{ yAxis: 100 }, { yAxis: -100 }]
      }
    },
    {
      type: 'line', xAxisIndex: 3, yAxisIndex: 3, data: cci, showSymbol: false, silent: true,
      lineStyle: { color: '#4a86e8', width: 2 }, z: 3
    },

    yTicks(0, priceTicks.map(p => L(p))),
    yTicks(1, rgMovTicks),
    yTicks(2, atrTicks),
    yTicks(3, cciTicks),
    xTicks(timeTicks)
  ]
};

const chart = echarts.init(document.getElementById('chart'));
chart.setOption(option);
window.addEventListener('resize', () => {
  chart.resize();
});
</script>
</body>
</html>
